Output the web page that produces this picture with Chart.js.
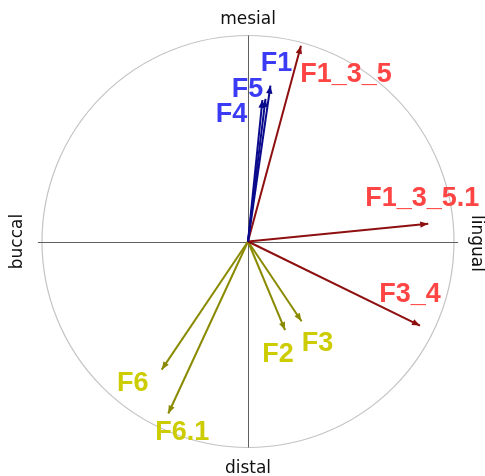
<!DOCTYPE html>
<html>
<head>
<meta charset="utf-8">
<script src="https://cdn.jsdelivr.net/npm/chart.js@4/dist/chart.umd.min.js"></script>
<style>
  html, body { margin: 0; padding: 0; background: #ffffff; }
  #wrap { width: 485px; height: 476px; position: relative; }
</style>
</head>
<body>
<div id="wrap"><canvas id="c"></canvas></div>
<script>
// Variable loadings on the two factor axes (correlation circle)
const variables = ['F1', 'F5', 'F4', 'F1_3_5', 'F1_3_5.1', 'F3_4', 'F2', 'F3', 'F6', 'F6.1'];
const dim1 = [0.109, 0.085, 0.070, 0.257, 0.875, 0.835, 0.180, 0.260, -0.419, -0.387];
const dim2 = [0.757, 0.692, 0.687, 0.950, 0.086, -0.408, -0.430, -0.387, -0.622, -0.835];
const group = ['blue', 'blue', 'blue', 'red', 'red', 'red', 'olive', 'olive', 'olive', 'olive'];

// Pole names around the circle
const poleTop = 'mesial';
const poleBottom = 'distal';
const poleLeft = 'buccal';
const poleRight = 'lingual';

// Styling per group
const arrowColor = { blue: '#0a0a8c', red: '#8e0f0f', olive: '#8a8a00' };
const labelColor = { blue: '#3b3bf5', red: '#ff4444', olive: '#cccc00' };
// Label placement relative to each arrow tip, in pixels
const labelOffset = [[6, -24], [-18, -12], [-31, 12], [45, 26], [-6, -27], [-10, -33], [-7, 22], [16, 20], [-29, 12], [14, 17]];

const datasets = variables.map((name, i) => ({
  label: name,
  data: [{ x: 0, y: 0 }, { x: dim1[i], y: dim2[i] }],
  showLine: true,
  borderColor: arrowColor[group[i]],
  borderWidth: 2,
  pointRadius: 0,
  pointHoverRadius: 0
}));

const circlePlugin = {
  id: 'circle',
  beforeDatasetsDraw(chart) {
    const { ctx, scales: { x, y } } = chart;
    const cx = x.getPixelForValue(0), cy = y.getPixelForValue(0);
    const r = x.getPixelForValue(1) - cx;
    ctx.save();
    ctx.strokeStyle = '#c4c4c4';
    ctx.lineWidth = 1.2;
    ctx.beginPath();
    ctx.arc(cx, cy, r, 0, Math.PI * 2);
    ctx.stroke();
    ctx.strokeStyle = '#606060';
    ctx.lineWidth = 1;
    ctx.beginPath();
    ctx.moveTo(x.getPixelForValue(-1.02), Math.round(cy) + 0.5);
    ctx.lineTo(x.getPixelForValue(1.02), Math.round(cy) + 0.5);
    ctx.moveTo(Math.round(cx) + 0.5, y.getPixelForValue(1.0));
    ctx.lineTo(Math.round(cx) + 0.5, y.getPixelForValue(-1.0));
    ctx.stroke();
    ctx.restore();
  },
  afterDatasetsDraw(chart) {
    const { ctx, scales: { x, y } } = chart;
    const cx = x.getPixelForValue(0), cy = y.getPixelForValue(0);
    const r = x.getPixelForValue(1) - cx;
    ctx.save();
    // arrow heads
    variables.forEach((name, i) => {
      const tx = x.getPixelForValue(dim1[i]), ty = y.getPixelForValue(dim2[i]);
      const ang = Math.atan2(ty - cy, tx - cx);
      const len = 8, half = 3.2;
      ctx.fillStyle = arrowColor[group[i]];
      ctx.beginPath();
      ctx.moveTo(tx, ty);
      ctx.lineTo(tx - len * Math.cos(ang) + half * Math.sin(ang), ty - len * Math.sin(ang) - half * Math.cos(ang));
      ctx.lineTo(tx - len * Math.cos(ang) - half * Math.sin(ang), ty - len * Math.sin(ang) + half * Math.cos(ang));
      ctx.closePath();
      ctx.fill();
    });
    // variable names
    ctx.font = 'bold 27px "Liberation Sans", Arial, sans-serif';
    ctx.textAlign = 'center';
    ctx.textBaseline = 'alphabetic';
    variables.forEach((name, i) => {
      const tx = x.getPixelForValue(dim1[i]), ty = y.getPixelForValue(dim2[i]);
      ctx.fillStyle = labelColor[group[i]];
      ctx.fillText(name, tx + labelOffset[i][0], ty + labelOffset[i][1] + 9.7);
    });
    // pole names
    ctx.font = '17px "DejaVu Sans", sans-serif';
    ctx.fillStyle = '#111111';
    ctx.textBaseline = 'middle';
    ctx.fillText(poleTop, cx, cy - r - 16);
    ctx.fillText(poleBottom, cx, cy + r + 21);
    ctx.save();
    ctx.translate(cx - r - 24, cy);
    ctx.rotate(-Math.PI / 2);
    ctx.fillText(poleLeft, 0, 0);
    ctx.restore();
    ctx.save();
    ctx.translate(cx + r + 22, cy + 2);
    ctx.rotate(Math.PI / 2);
    ctx.fillText(poleRight, 0, 0);
    ctx.restore();
    ctx.restore();
  }
};

new Chart(document.getElementById('c'), {
  type: 'scatter',
  data: { datasets },
  options: {
    responsive: true,
    maintainAspectRatio: false,
    animation: false,
    layout: { padding: { left: 21.4, right: 10.4, top: 14.9, bottom: 7.9 } },
    scales: {
      x: { type: 'linear', min: -1.1, max: 1.1, display: false },
      y: { type: 'linear', min: -1.1, max: 1.1, display: false }
    },
    plugins: {
      legend: { display: false },
      tooltip: { enabled: false }
    },
    events: []
  },
  plugins: [circlePlugin]
});
</script>
</body>
</html>
